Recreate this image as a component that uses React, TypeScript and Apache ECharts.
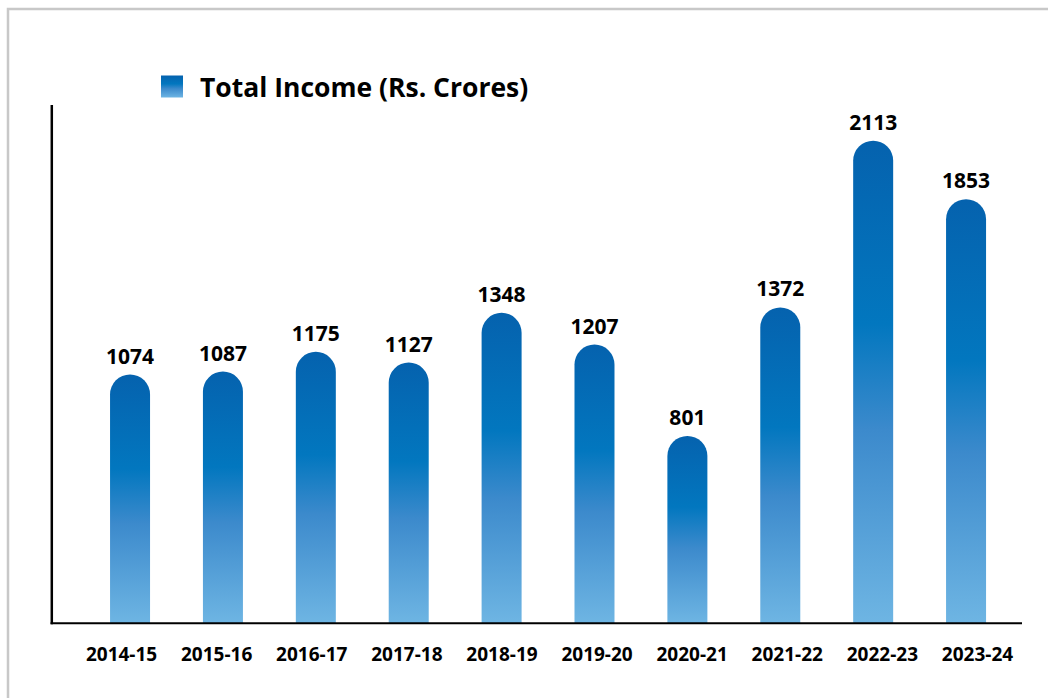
import React, { useEffect, useRef } from "react";
import * as echarts from "echarts";

const categories = [
  "2014-15",
  "2015-16",
  "2016-17",
  "2017-18",
  "2018-19",
  "2019-20",
  "2020-21",
  "2021-22",
  "2022-23",
  "2023-24",
];
const totalIncome = [1074, 1087, 1175, 1127, 1348, 1207, 801, 1372, 2113, 1853];
const seriesName = "Total Income (Rs. Crores)";

const FONT = "'Open Sans', 'Noto Sans', sans-serif";
const Y_MIN = -30;
const Y_MAX = 2270;

export default function App() {
  const ref = useRef<HTMLDivElement>(null);
  useEffect(() => {
    const chart = echarts.init(ref.current!, null, { renderer: "svg" });
    const grad = () =>
      new echarts.graphic.LinearGradient(0, 0, 0, 1, [
        { offset: 0, color: "#0562ae" },
        { offset: 0.38, color: "#0277bf" },
        { offset: 0.6, color: "#3c8acc" },
        { offset: 1, color: "#6eb5e3" },
      ]);
    chart.setOption({
      animation: false,
      backgroundColor: "#ffffff",
      legend: {
        show: true,
        left: 161,
        top: 73,
        padding: 0,
        icon: "rect",
        itemWidth: 22,
        itemHeight: 22,
        data: [seriesName],
        textStyle: {
          fontFamily: FONT,
          fontSize: 26.5,
          lineHeight: 22,
          fontWeight: "bold",
          color: "#000000",
          padding: [0, 0, 0, 12],
        },
      },
      grid: [
        { left: 83.6, right: 35.5, top: 105.3, bottom: 75 },
        { left: 74, right: 23, top: 105.3, bottom: 75 },
      ],
      xAxis: [
        {
          type: "category",
          gridIndex: 0,
          data: categories,
          axisLine: { show: false },
          axisTick: { show: false },
          axisLabel: { show: false },
        },
        {
          type: "category",
          gridIndex: 1,
          data: categories,
          axisLine: { show: false },
          axisTick: { show: false },
          axisLabel: {
            show: true,
            margin: 21,
            fontFamily: FONT,
            fontSize: 19,
            fontWeight: "bold",
            color: "#000000",
          },
        },
      ],
      yAxis: [
        {
          type: "value",
          gridIndex: 0,
          min: Y_MIN,
          max: Y_MAX,
          startValue: Y_MIN,
          show: false,
          splitLine: { show: false },
        },
        {
          type: "value",
          gridIndex: 1,
          min: Y_MIN,
          max: Y_MAX,
          show: false,
          splitLine: { show: false },
        },
      ],
      series: [
        {
          name: seriesName,
          type: "bar",
          xAxisIndex: 0,
          yAxisIndex: 0,
          data: totalIncome,
          barWidth: 40,
          itemStyle: {
            color: grad(),
            borderRadius: [20, 20, 0, 0],
          },
          label: {
            show: true,
            position: "top",
            distance: 8.5,
            fontFamily: FONT,
            fontSize: 21,
            fontWeight: "bold",
            color: "#000000",
          },
        },
      ],
      graphic: [
        {
          type: "rect",
          z: 100,
          shape: { x: 8, y: 9, width: 1100, height: 800 },
          style: { fill: "none", stroke: "#c8c8c8", lineWidth: 2.5 },
          silent: true,
        },
        {
          type: "line",
          z: 101,
          shape: { x1: 51.8, y1: 105, x2: 51.8, y2: 624.3 },
          style: { stroke: "#000000", lineWidth: 2.5 },
          silent: true,
        },
        {
          type: "line",
          z: 101,
          shape: { x1: 50.6, y1: 623.3, x2: 1022, y2: 623.3 },
          style: { stroke: "#000000", lineWidth: 2 },
          silent: true,
        },
      ],
    });
    return () => chart.dispose();
  }, []);
  return (
    <div
      ref={ref}
      style={{
        position: "absolute",
        left: 0,
        top: 0,
        width: 1048,
        height: 698,
        background: "#ffffff",
      }}
    />
  );
}
